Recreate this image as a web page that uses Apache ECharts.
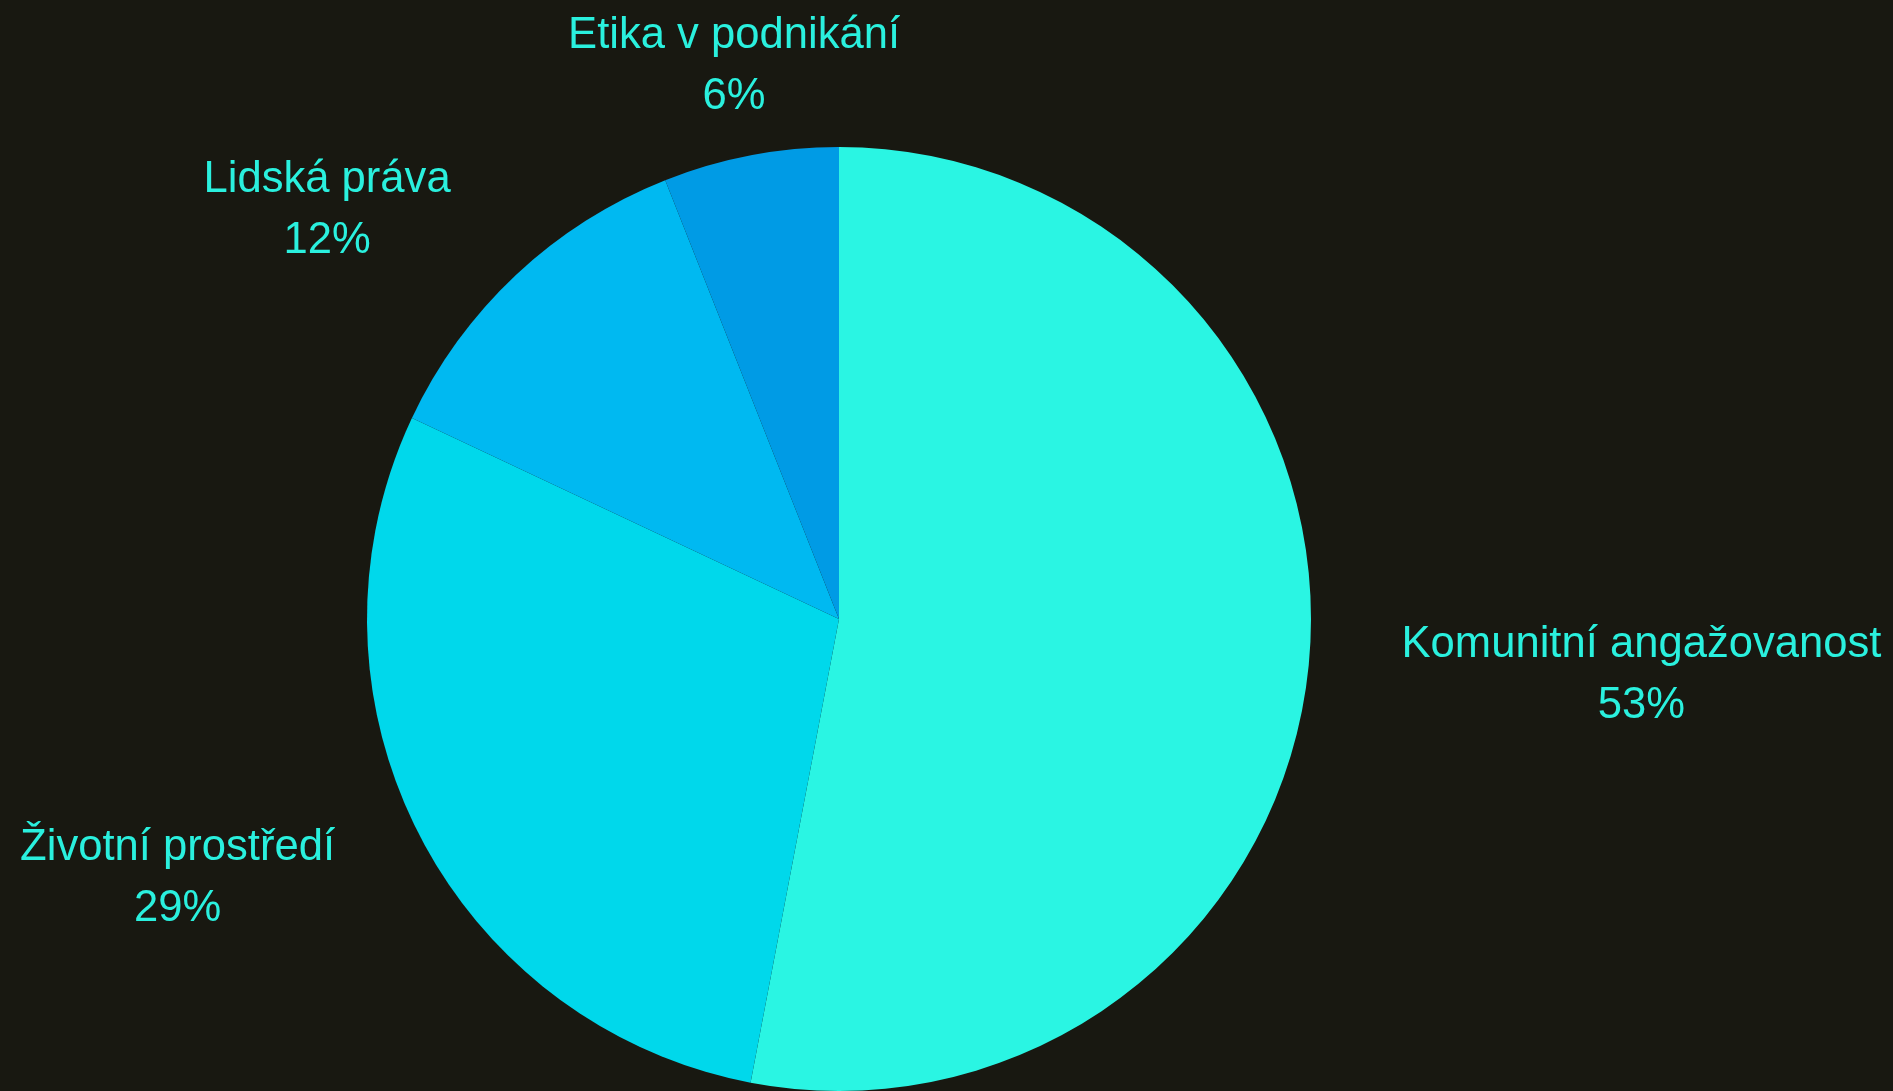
<!DOCTYPE html>
<html>
<head>
<meta charset="utf-8">
<style>
  html, body { margin: 0; padding: 0; background: #181811; }
  #chart { width: 1893px; height: 1091px; }
</style>
<script src="https://cdn.jsdelivr.net/npm/echarts@6/dist/echarts.min.js"></script>
</head>
<body>
<div id="chart"></div>
<script>
const categories = ['Komunitní angažovanost', 'Životní prostředí', 'Lidská práva', 'Etika v podnikání'];
const values = [53, 29, 12, 6];
const sliceColors = ['#2AF5E3', '#00D8EB', '#00B9F1', '#009BE5'];
const labelColor = '#2AF0DE';

const chart = echarts.init(document.getElementById('chart'), null, { renderer: 'canvas' });
chart.setOption({
  backgroundColor: '#181811',
  animation: false,
  series: [{
    type: 'pie',
    center: [839, 619],
    radius: 472,
    startAngle: 90,
    clockwise: true,
    avoidLabelOverlap: false,
    data: categories.map((c, i) => ({ name: c, value: values[i], itemStyle: { color: sliceColors[i] } })),
    label: {
      show: true,
      position: 'outside',
      formatter: p => `{t|${p.name}}\n{t|${Math.round(p.percent)}%}`,
      rich: {
        t: {
          fontFamily: '"Liberation Sans", Arial, sans-serif',
          fontSize: 43.6,
          lineHeight: 61,
          color: labelColor,
          align: 'center'
        }
      }
    },
    labelLine: { show: false, length: 88, length2: 0 },
    emphasis: { disabled: true },
    labelLayout: function (params) {
      if (params.dataIndex === 3) {
        return { align: 'center', dx: 5, dy: -2 };
      }
      if (params.dataIndex === 0) return { dy: 4 };
      if (params.dataIndex === 1) return { dy: 5 };
      return {};
    }
  }]
});
</script>
</body>
</html>
